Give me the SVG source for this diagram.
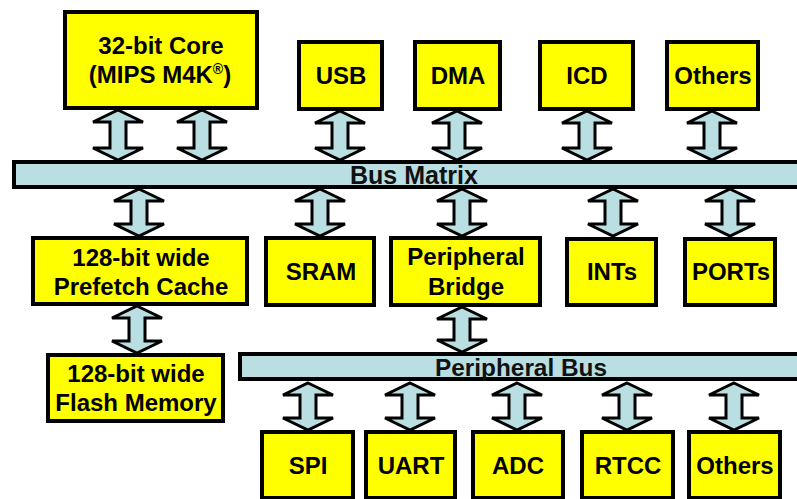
<svg xmlns="http://www.w3.org/2000/svg" width="797" height="499" viewBox="0 0 797 499">
<style>
.box{fill:#FFFF00;stroke:#000;stroke-width:4}
.bar{fill:#B9DFE2;stroke:#000;stroke-width:4}
.arr{fill:#B9DFE2;stroke:#000;stroke-width:3;stroke-linejoin:miter}
.lbl{font-family:"Liberation Sans",Arial,sans-serif;font-weight:bold;font-size:24px;text-anchor:middle;fill:#000}
.bus{font-family:"Liberation Sans",Arial,sans-serif;font-weight:bold;fill:#111}
</style>
<rect width="797" height="499" fill="#fff"/>

<g id="connectors">
<path class="arr" d="M118,110 L143,122 L126,122 L126,148 L143,148 L118,160 L93,148 L110,148 L110,122 L93,122 Z"/>
<path class="arr" d="M202,110 L227,122 L210,122 L210,148 L227,148 L202,160 L177,148 L194,148 L194,122 L177,122 Z"/>
<path class="arr" d="M340,111 L365,123 L348,123 L348,148 L365,148 L340,160 L315,148 L332,148 L332,123 L315,123 Z"/>
<path class="arr" d="M457,111 L482,123 L465,123 L465,148 L482,148 L457,160 L432,148 L449,148 L449,123 L432,123 Z"/>
<path class="arr" d="M587,111 L612,123 L595,123 L595,148 L612,148 L587,160 L562,148 L579,148 L579,123 L562,123 Z"/>
<path class="arr" d="M712,111 L737,123 L720,123 L720,148 L737,148 L712,160 L687,148 L704,148 L704,123 L687,123 Z"/>
<path class="arr" d="M139,189 L164,201 L147,201 L147,224 L164,224 L139,236 L114,224 L131,224 L131,201 L114,201 Z"/>
<path class="arr" d="M320,189 L345,201 L328,201 L328,224 L345,224 L320,236 L295,224 L312,224 L312,201 L295,201 Z"/>
<path class="arr" d="M462,189 L487,201 L470,201 L470,224 L487,224 L462,236 L437,224 L454,224 L454,201 L437,201 Z"/>
<path class="arr" d="M613,189 L638,201 L621,201 L621,224 L638,224 L613,236 L588,224 L605,224 L605,201 L588,201 Z"/>
<path class="arr" d="M730,189 L755,201 L738,201 L738,224 L755,224 L730,236 L705,224 L722,224 L722,201 L705,201 Z"/>
<path class="arr" d="M137,306 L162,318 L145,318 L145,341 L162,341 L137,353 L112,341 L129,341 L129,318 L112,318 Z"/>
<path class="arr" d="M462,307 L487,319 L470,319 L470,340 L487,340 L462,352 L437,340 L454,340 L454,319 L437,319 Z"/>
<path class="arr" d="M308,383 L333,395 L316,395 L316,418 L333,418 L308,430 L283,418 L300,418 L300,395 L283,395 Z"/>
<path class="arr" d="M410,383 L435,395 L418,395 L418,418 L435,418 L410,430 L385,418 L402,418 L402,395 L385,395 Z"/>
<path class="arr" d="M517,383 L542,395 L525,395 L525,418 L542,418 L517,430 L492,418 L509,418 L509,395 L492,395 Z"/>
<path class="arr" d="M627,383 L652,395 L635,395 L635,418 L652,418 L627,430 L602,418 L619,418 L619,395 L602,395 Z"/>
<path class="arr" d="M734,383 L759,395 L742,395 L742,418 L759,418 L734,430 L709,418 L726,418 L726,395 L709,395 Z"/>
</g>

<g id="bus-matrix">
<rect class="bar" x="14" y="162" width="800" height="25"/>
<text class="bus" x="350" y="184" font-size="25" textLength="128" lengthAdjust="spacingAndGlyphs">Bus Matrix</text>
</g>

<g id="peripheral-bus">
<rect class="bar" x="240" y="354" width="600" height="25"/>
<text class="bus" x="435" y="376" font-size="24" textLength="172" lengthAdjust="spacingAndGlyphs">Peripheral Bus</text>
</g>

<g id="core">
<rect class="box" x="65" y="12" width="192" height="96"/>
<text class="lbl" x="161" y="54">32-bit Core</text>
<text class="lbl" x="160" y="83">(MIPS M4K<tspan font-size="14" dy="-9">®</tspan><tspan dy="9">)</tspan></text>
</g>

<g id="usb">
<rect class="box" x="299" y="42" width="83" height="67"/>
<text class="lbl" x="341" y="84">USB</text>
</g>

<g id="dma">
<rect class="box" x="415" y="42" width="85" height="67"/>
<text class="lbl" x="458" y="84">DMA</text>
</g>

<g id="icd">
<rect class="box" x="540" y="42" width="93" height="67"/>
<text class="lbl" x="587" y="84">ICD</text>
</g>

<g id="others-top">
<rect class="box" x="667" y="42" width="91" height="67"/>
<text class="lbl" x="713" y="84">Others</text>
</g>

<g id="prefetch-cache">
<rect class="box" x="33" y="238" width="214" height="66"/>
<text class="lbl" x="141" y="266">128-bit wide</text>
<text class="lbl" x="141" y="295">Prefetch Cache</text>
</g>

<g id="sram">
<rect class="box" x="266" y="238" width="108" height="67"/>
<text class="lbl" x="321" y="280">SRAM</text>
</g>

<g id="peripheral-bridge">
<rect class="box" x="391" y="238" width="149" height="67"/>
<text class="lbl" x="466" y="265">Peripheral</text>
<text class="lbl" x="466" y="295">Bridge</text>
</g>

<g id="ints">
<rect class="box" x="567" y="239" width="89" height="66"/>
<text class="lbl" x="612" y="280">INTs</text>
</g>

<g id="ports">
<rect class="box" x="685" y="239" width="90" height="66"/>
<text class="lbl" x="731" y="280">PORTs</text>
</g>

<g id="flash-memory">
<rect class="box" x="48" y="355" width="175" height="66"/>
<text class="lbl" x="136" y="382">128-bit wide</text>
<text class="lbl" x="136" y="411">Flash Memory</text>
</g>

<g id="spi">
<rect class="box" x="262" y="432" width="91" height="66"/>
<text class="lbl" x="308" y="474">SPI</text>
</g>

<g id="uart">
<rect class="box" x="366" y="432" width="89" height="66"/>
<text class="lbl" x="411" y="474">UART</text>
</g>

<g id="adc">
<rect class="box" x="473" y="432" width="90" height="66"/>
<text class="lbl" x="518" y="474">ADC</text>
</g>

<g id="rtcc">
<rect class="box" x="582" y="432" width="91" height="66"/>
<text class="lbl" x="628" y="474">RTCC</text>
</g>

<g id="others-bottom">
<rect class="box" x="689" y="432" width="91" height="66"/>
<text class="lbl" x="735" y="474">Others</text>
</g>
</svg>
